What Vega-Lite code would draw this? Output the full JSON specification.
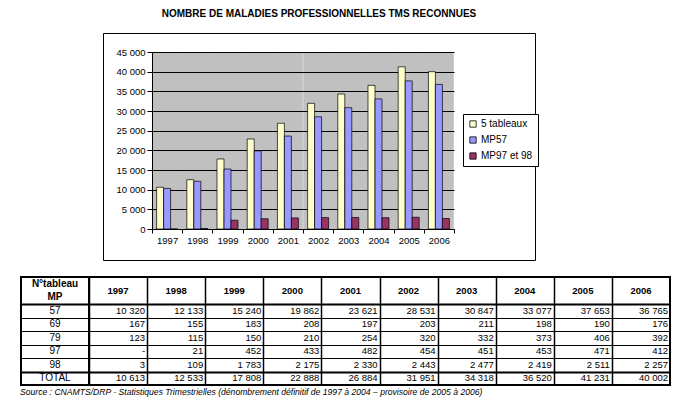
{
  "$schema": "https://vega.github.io/schema/vega-lite/v6.json",
  "padding": {"left": 20, "top": 8, "right": 0, "bottom": 0},
  "background": "white",
  "config": {"font": "Liberation Sans", "view": {"stroke": null}},
  "datasets": {
    "bars": [
      {"year": "1997", "series": "5 tableaux", "value": 10613},
      {"year": "1998", "series": "5 tableaux", "value": 12533},
      {"year": "1999", "series": "5 tableaux", "value": 17808},
      {"year": "2000", "series": "5 tableaux", "value": 22888},
      {"year": "2001", "series": "5 tableaux", "value": 26884},
      {"year": "2002", "series": "5 tableaux", "value": 31951},
      {"year": "2003", "series": "5 tableaux", "value": 34318},
      {"year": "2004", "series": "5 tableaux", "value": 36520},
      {"year": "2005", "series": "5 tableaux", "value": 41231},
      {"year": "2006", "series": "5 tableaux", "value": 40002},
      {"year": "1997", "series": "MP57", "value": 10320},
      {"year": "1998", "series": "MP57", "value": 12133},
      {"year": "1999", "series": "MP57", "value": 15240},
      {"year": "2000", "series": "MP57", "value": 19862},
      {"year": "2001", "series": "MP57", "value": 23621},
      {"year": "2002", "series": "MP57", "value": 28531},
      {"year": "2003", "series": "MP57", "value": 30847},
      {"year": "2004", "series": "MP57", "value": 33077},
      {"year": "2005", "series": "MP57", "value": 37653},
      {"year": "2006", "series": "MP57", "value": 36765},
      {"year": "1997", "series": "MP97 et 98", "value": 3},
      {"year": "1998", "series": "MP97 et 98", "value": 130},
      {"year": "1999", "series": "MP97 et 98", "value": 2235},
      {"year": "2000", "series": "MP97 et 98", "value": 2608},
      {"year": "2001", "series": "MP97 et 98", "value": 2812},
      {"year": "2002", "series": "MP97 et 98", "value": 2897},
      {"year": "2003", "series": "MP97 et 98", "value": 2928},
      {"year": "2004", "series": "MP97 et 98", "value": 2872},
      {"year": "2005", "series": "MP97 et 98", "value": 2982},
      {"year": "2006", "series": "MP97 et 98", "value": 2669}
    ],
    "rowlabels": [
      {"row": "h1", "t": "N°tableau"},
      {"row": "h2", "t": "MP"},
      {"row": "57", "t": "57"},
      {"row": "69", "t": "69"},
      {"row": "79", "t": "79"},
      {"row": "97", "t": "97"},
      {"row": "98", "t": "98"},
      {"row": "TOTAL", "t": "TOTAL"}
    ],
    "cells": [
      {"row": "h1", "year": "1997", "v": "1997"}, {"row": "h1", "year": "1998", "v": "1998"}, {"row": "h1", "year": "1999", "v": "1999"}, {"row": "h1", "year": "2000", "v": "2000"}, {"row": "h1", "year": "2001", "v": "2001"}, {"row": "h1", "year": "2002", "v": "2002"}, {"row": "h1", "year": "2003", "v": "2003"}, {"row": "h1", "year": "2004", "v": "2004"}, {"row": "h1", "year": "2005", "v": "2005"}, {"row": "h1", "year": "2006", "v": "2006"},
      {"row": "57", "year": "1997", "v": "10 320"}, {"row": "57", "year": "1998", "v": "12 133"}, {"row": "57", "year": "1999", "v": "15 240"}, {"row": "57", "year": "2000", "v": "19 862"}, {"row": "57", "year": "2001", "v": "23 621"}, {"row": "57", "year": "2002", "v": "28 531"}, {"row": "57", "year": "2003", "v": "30 847"}, {"row": "57", "year": "2004", "v": "33 077"}, {"row": "57", "year": "2005", "v": "37 653"}, {"row": "57", "year": "2006", "v": "36 765"},
      {"row": "69", "year": "1997", "v": "167"}, {"row": "69", "year": "1998", "v": "155"}, {"row": "69", "year": "1999", "v": "183"}, {"row": "69", "year": "2000", "v": "208"}, {"row": "69", "year": "2001", "v": "197"}, {"row": "69", "year": "2002", "v": "203"}, {"row": "69", "year": "2003", "v": "211"}, {"row": "69", "year": "2004", "v": "198"}, {"row": "69", "year": "2005", "v": "190"}, {"row": "69", "year": "2006", "v": "176"},
      {"row": "79", "year": "1997", "v": "123"}, {"row": "79", "year": "1998", "v": "115"}, {"row": "79", "year": "1999", "v": "150"}, {"row": "79", "year": "2000", "v": "210"}, {"row": "79", "year": "2001", "v": "254"}, {"row": "79", "year": "2002", "v": "320"}, {"row": "79", "year": "2003", "v": "332"}, {"row": "79", "year": "2004", "v": "373"}, {"row": "79", "year": "2005", "v": "406"}, {"row": "79", "year": "2006", "v": "392"},
      {"row": "97", "year": "1997", "v": "-"}, {"row": "97", "year": "1998", "v": "21"}, {"row": "97", "year": "1999", "v": "452"}, {"row": "97", "year": "2000", "v": "433"}, {"row": "97", "year": "2001", "v": "482"}, {"row": "97", "year": "2002", "v": "454"}, {"row": "97", "year": "2003", "v": "451"}, {"row": "97", "year": "2004", "v": "453"}, {"row": "97", "year": "2005", "v": "471"}, {"row": "97", "year": "2006", "v": "412"},
      {"row": "98", "year": "1997", "v": "3"}, {"row": "98", "year": "1998", "v": "109"}, {"row": "98", "year": "1999", "v": "1 783"}, {"row": "98", "year": "2000", "v": "2 175"}, {"row": "98", "year": "2001", "v": "2 330"}, {"row": "98", "year": "2002", "v": "2 443"}, {"row": "98", "year": "2003", "v": "2 477"}, {"row": "98", "year": "2004", "v": "2 419"}, {"row": "98", "year": "2005", "v": "2 511"}, {"row": "98", "year": "2006", "v": "2 257"},
      {"row": "TOTAL", "year": "1997", "v": "10 613"}, {"row": "TOTAL", "year": "1998", "v": "12 533"}, {"row": "TOTAL", "year": "1999", "v": "17 808"}, {"row": "TOTAL", "year": "2000", "v": "22 888"}, {"row": "TOTAL", "year": "2001", "v": "26 884"}, {"row": "TOTAL", "year": "2002", "v": "31 951"}, {"row": "TOTAL", "year": "2003", "v": "34 318"}, {"row": "TOTAL", "year": "2004", "v": "36 520"}, {"row": "TOTAL", "year": "2005", "v": "41 231"}, {"row": "TOTAL", "year": "2006", "v": "40 002"}
    ]
  },
  "spacing": 15,
  "resolve": {"legend": {"color": "independent"}, "scale": {"color": "independent"}},
  "vconcat": [
    {
      "hconcat": [
        {"width": 82, "height": 1, "data": {"values": []}, "mark": {"type": "point", "opacity": 0}, "encoding": {}},
        {
          "width": 432,
          "height": 227,
          "view": {"stroke": "black", "strokeWidth": 1, "fill": "white"},
          "title": {"text": "NOMBRE DE MALADIES PROFESSIONNELLES TMS RECONNUES", "fontSize": 10, "fontWeight": "bold", "offset": 14, "anchor": "middle", "color": "black"},
          "data": {"name": "bars"},
          "encoding": {
            "y": {"field": "value", "type": "quantitative", "scale": {"domain": [0, 45000], "range": [196, 19], "nice": false},
              "axis": {"orient": "left", "offset": -49, "values": [0, 5000, 10000, 15000, 20000, 25000, 30000, 35000, 40000, 45000], "grid": true, "gridColor": "black", "gridWidth": 1, "tickSize": 5, "labelExpr": "replace(format(datum.value, ','), ',', ' ')", "labelFontSize": 9.5, "labelColor": "black", "labelPadding": 2, "domainColor": "black", "tickColor": "black", "title": null}}
          },
          "layer": [
            {
              "mark": {"type": "point", "opacity": 0},
              "encoding": {
                "x": {"field": "year", "type": "nominal", "scale": {"range": [49, 351], "paddingInner": 0, "paddingOuter": 0},
                  "axis": {"orient": "top", "offset": 0, "grid": true, "gridColor": "#c0c0c0", "gridWidth": 30.6, "gridOpacity": 1, "tickBand": "center", "labels": false, "ticks": false, "domain": false, "title": null}}
              }
            },
            {
              "mark": {"type": "bar", "stroke": "black", "strokeWidth": 0.7},
              "encoding": {
                "x": {"field": "year", "type": "nominal", "scale": {"range": [49, 351], "paddingInner": 0, "paddingOuter": 0},
                  "axis": {"orient": "bottom", "offset": -31, "grid": false, "tickBand": "extent", "title": null, "labelAngle": 0, "labelFontSize": 9.5, "labelColor": "black", "tickColor": "black", "domainColor": "black", "tickSize": 4, "labelPadding": 2}},
                "xOffset": {"field": "series", "type": "nominal", "sort": ["5 tableaux", "MP57", "MP97 et 98"], "scale": {"paddingInner": 0, "paddingOuter": 0.66}},
                "color": {"field": "series", "type": "nominal",
                  "scale": {"domain": ["5 tableaux", "MP57", "MP97 et 98"], "range": ["#FFFFCC", "#9999FF", "#993366"]},
                  "legend": {"title": null, "orient": "none", "legendX": 360, "legendY": 81, "strokeColor": "black", "fillColor": "white", "padding": 5, "symbolType": "square", "symbolSize": 40, "symbolStrokeColor": "black", "symbolStrokeWidth": 0.8, "labelFontSize": 10, "labelColor": "black", "rowPadding": 6, "labelOffset": 3}}
              }
            }
          ],
          "resolve": {"scale": {"x": "independent"}, "axis": {"x": "independent"}}
        }
      ],
      "spacing": 0,
      "bounds": "flush",
      "resolve": {"legend": {"color": "independent"}, "scale": {"color": "independent"}}
    },
    {
      "hconcat": [
        {
          "width": 68,
          "height": 108,
          "view": {"stroke": "black", "strokeWidth": 2},
          "data": {"name": "rowlabels"},
          "encoding": {
            "y": {"field": "row", "type": "nominal",
              "scale": {"domain": ["h1", "h2", "57", "69", "79", "97", "98", "TOTAL"], "paddingInner": 0, "paddingOuter": 0},
              "axis": {"grid": true, "tickBand": "extent", "labels": false, "ticks": false, "domain": false, "title": null, "gridColor": "black",
                "gridWidth": {"condition": {"test": "datum.value === 'h2' || datum.value === '98'", "value": 2}, "value": 1},
                "gridOpacity": {"condition": {"test": "datum.value === 'h1'", "value": 0}, "value": 1}}},
            "text": {"field": "t", "type": "nominal"}
          },
          "layer": [
            {"transform": [{"filter": "datum.row == 'h1' || datum.row == 'h2'"}], "mark": {"type": "text", "fontWeight": "bold", "fontSize": 10, "color": "black"}},
            {"transform": [{"filter": "datum.row != 'h1' && datum.row != 'h2'"}], "mark": {"type": "text", "fontSize": 10, "color": "black"}}
          ]
        },
        {
          "width": 581,
          "height": 108,
          "view": {"stroke": "black", "strokeWidth": 2},
          "data": {"name": "cells"},
          "encoding": {
            "y": {"field": "row", "type": "nominal",
              "scale": {"domain": ["h1", "h2", "57", "69", "79", "97", "98", "TOTAL"], "paddingInner": 0, "paddingOuter": 0},
              "axis": {"grid": true, "tickBand": "extent", "labels": false, "ticks": false, "domain": false, "title": null, "gridColor": "black",
                "gridWidth": {"condition": {"test": "datum.value === 'h2' || datum.value === '98'", "value": 2}, "value": 1},
                "gridOpacity": {"condition": {"test": "datum.value === 'h1'", "value": 0}, "value": 1}}},
            "text": {"field": "v", "type": "nominal"}
          },
          "layer": [
            {"transform": [{"filter": "datum.row == 'h1'"}],
              "mark": {"type": "text", "fontWeight": "bold", "fontSize": 9.5, "color": "black"},
              "encoding": {
                "x": {"field": "year", "type": "nominal", "scale": {"paddingInner": 0, "paddingOuter": 0},
                  "axis": {"orient": "bottom", "grid": true, "tickBand": "extent", "labels": false, "ticks": false, "domain": false, "title": null, "gridColor": "black", "gridWidth": 1.5}},
                "y": {"field": "row", "type": "nominal", "bandPosition": 1}
              }},
            {"transform": [{"filter": "datum.row != 'h1'"}],
              "mark": {"type": "text", "fontSize": 9.5, "align": "right", "dx": -2, "color": "black"},
              "encoding": {
                "x": {"field": "year", "type": "nominal", "bandPosition": 1}
              }}
          ]
        }
      ],
      "spacing": 0,
      "bounds": "flush",
      "title": {"text": "Source : CNAMTS/DRP - Statistiques Trimestrielles (dénombrement définitif de 1997 à 2004 – provisoire de 2005 à 2006)", "orient": "bottom", "anchor": "start", "fontSize": 8.6, "fontStyle": "italic", "fontWeight": "normal", "offset": 2, "color": "black"}
    }
  ]
}
